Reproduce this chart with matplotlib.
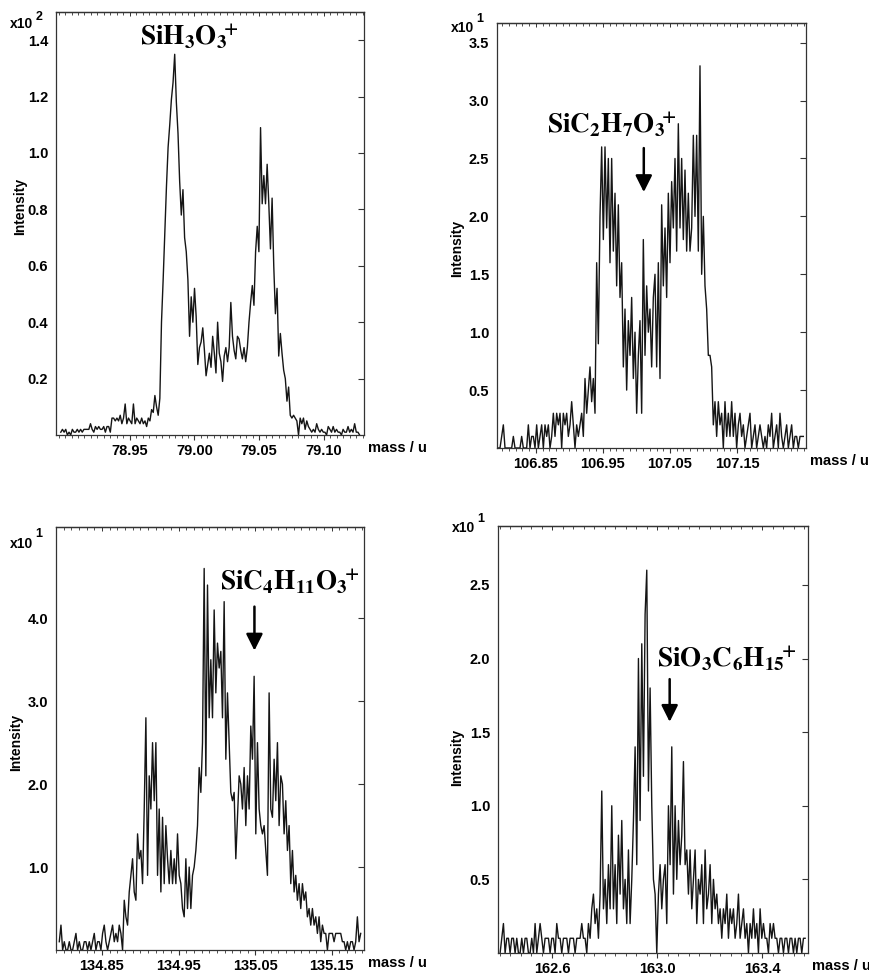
import numpy as np
import matplotlib.pyplot as plt
from matplotlib.ticker import MultipleLocator, FormatStrFormatter

plt.rcParams['font.family'] = ['Liberation Sans', 'DejaVu Sans']
plt.rcParams['font.weight'] = 'bold'
plt.rcParams['mathtext.fontset'] = 'stix'

# raw counts (uniform mass channels)
counts1 = [1, 2, 1, 2, 0, 1, 0, 2, 1, 1, 2, 1, 2, 1, 2, 2, 2, 2, 4, 2, 1, 3, 2, 3, 2, 2, 3, 1, 3, 3, 1,
           6, 6, 5, 6, 5, 7, 4, 6, 11, 4, 6, 5, 4, 11, 4, 6, 5, 4, 6, 4, 5, 3, 6, 5, 9, 8, 14, 10,
           7, 13, 40, 55, 72, 88, 102, 110, 119, 125, 135, 118, 107, 90, 78, 87, 70, 65,
           55, 35, 49, 40, 52, 42, 25, 31, 33, 38, 30, 21, 25, 29, 24, 35, 29, 22, 40, 29, 26, 19,
           28, 31, 26, 31, 47, 35, 30, 27, 35, 34, 30, 27, 31, 26, 31, 40, 47, 53,
           46, 65, 74, 65, 109, 82, 92, 82, 96, 82, 66, 84, 60, 43, 52, 28, 36, 29, 23, 20,
           12, 17, 7, 6, 7, 6, 5, 0,
           6, 4, 6, 2, 5, 3, 2, 1, 2, 1, 4, 2, 1, 2, 1, 1, 0, 3, 2, 1, 3, 1, 2, 1, 1, 0,
           2, 1, 1, 3, 1, 2, 1, 4, 1, 1, 0]

counts2 = [0, 0, 1, 2, 0, 0, 0, 0, 0, 1, 0, 0, 0, 0, 1, 0, 0, 0, 2, 0,
           1, 1, 0, 2, 0, 1, 2, 0, 2, 1, 2, 0, 1, 3, 1, 3, 2, 3, 0, 3,
           2, 3, 1, 2, 4, 2, 0, 2, 1, 2, 3, 1, 6, 3, 5, 7, 4, 6, 3, 16,
           9, 20, 26, 18, 26, 19, 25, 16, 25, 17, 22, 14, 21, 13, 16, 7, 12, 5, 11, 8,
           13, 6, 10, 3, 8, 11, 3, 18, 8, 14, 10, 12, 7, 13, 15, 7, 16, 6, 21, 14,
           19, 13, 22, 16, 23, 19, 25, 17, 28, 19, 25, 18, 24, 17, 22, 17, 19, 27, 20, 27,
           17, 33, 15, 20, 14, 12, 8, 8, 7, 2, 4, 1, 4, 2, 3, 0, 4, 1, 3, 1,
           4, 1, 3, 0, 2, 3, 1, 2, 0, 1, 2, 3, 0, 1, 2, 0, 1, 2, 1, 0,
           1, 0, 2, 1, 3, 0, 1, 2, 0, 3, 1, 0, 1, 2, 0, 1, 2, 0, 1, 1,
           0, 1, 1, 1]

counts3 = [1, 3, 0, 1, 0, 0, 1, 0, 0, 1, 2, 0, 1, 0, 0, 1, 1, 0, 1, 0,
           1, 2, 0, 1, 1, 0, 2, 3, 1, 0, 1, 2, 3, 1, 2, 1, 3, 2, 0,
           6, 4, 3, 7, 9, 11, 7, 6, 14, 11, 12, 8, 17, 28, 9, 21, 17, 25, 18, 25,
           9, 17, 7, 16, 8, 15, 11, 8, 12, 8, 11, 8, 14, 9, 8, 5, 4, 11, 5, 10,
           5, 9, 10, 12, 15, 22, 19, 25, 46, 21, 44, 28, 35, 28, 41, 31, 37, 34, 36, 28,
           42, 23, 31, 25, 19, 18, 19, 11, 16, 21, 20, 17, 22, 15, 21, 17, 27, 23, 33, 14,
           25, 17, 15, 14, 15, 12, 9, 31, 17, 16, 23, 18, 25, 15, 21, 20, 14, 18, 12, 15,
           8, 12, 7, 9, 6, 8, 5, 8, 6, 7, 4, 5, 3, 5, 3, 4, 2, 4, 1, 3,
           2, 2, 0, 2, 2, 2, 1, 2, 2, 2, 2, 1, 1, 0, 1, 0, 1, 1, 0, 1,
           4, 1, 2]

counts4 = [0, 1, 2, 0, 1, 1, 0, 1, 1, 0, 1, 0, 0, 1, 0, 1, 1, 0, 0, 1,
           0, 2, 0, 1, 2, 1, 0, 1, 1, 1, 0, 1, 1, 0, 2, 1, 1, 0, 1, 1,
           1, 0, 1, 1, 1, 0, 1, 1, 1, 2, 1, 1, 0, 2, 1,
           3, 4, 2, 3, 1, 4, 11, 3, 5, 2, 6, 3, 10, 3, 6, 2, 8, 4, 9, 3, 5, 2, 7, 2, 5,
           9, 14, 6, 20, 9, 21, 12, 23, 26, 11, 18, 10, 5, 4, 0,
           4, 6, 3, 5, 6, 2, 10, 6, 14, 4, 10, 5, 9, 6, 8, 13, 6, 7, 4, 7, 3, 5, 7, 2,
           5, 4, 6, 2, 7, 3, 4, 6, 2, 5, 3, 4, 2, 3, 1, 3, 2, 4, 1, 3,
           2, 3, 1, 2, 4, 1, 2, 3, 1, 2, 0, 2, 1, 3, 1, 2, 0, 3, 1, 2,
           1, 1, 0, 2, 1, 2, 1, 1, 0, 1, 1, 0, 1, 1, 0, 1, 1, 0, 1, 0,
           1, 1, 0, 1, 1]

# first / last channel mass of each spectrum
mass_range1 = (78.8967, 79.1276)
mass_range2 = (106.794, 107.249)
mass_range3 = (134.7943, 135.1877)
mass_range4 = (162.402, 163.564)

xticks1 = [78.95, 79.00, 79.05, 79.10]
xticks2 = [106.85, 106.95, 107.05, 107.15]
xticks3 = [134.85, 134.95, 135.05, 135.15]
xticks4 = [162.6, 163.0, 163.4]
yticks1 = [0.2, 0.4, 0.6, 0.8, 1.0, 1.2, 1.4]
yticks2 = [0.5, 1.0, 1.5, 2.0, 2.5, 3.0, 3.5]
yticks3 = [1.0, 2.0, 3.0, 4.0]
yticks4 = [0.5, 1.0, 1.5, 2.0, 2.5]

scales = [100, 10, 10, 10]
exponents = ['2', '1', '1', '1']
formulas = [r'$\mathbf{SiH_3O_3\!\!{}^+}$', r'$\mathbf{SiC_2H_7O_3\!\!{}^+}$',
            r'$\mathbf{SiC_4H_{11}O_3\!\!{}^+}$', r'$\mathbf{SiO_3C_6H_{15}\!\!{}^+}$']

fig = plt.figure(figsize=(8.7, 9.73), dpi=100)
W, H = 870, 973

def add_ax(l, t, r, b):
    return fig.add_axes([l / W, (H - b) / H, (r - l) / W, (b - t) / H])

axes = [add_ax(56, 12, 364, 435), add_ax(497, 23, 806, 448),
        add_ax(56, 527, 364, 950), add_ax(498, 526, 808, 953)]

panels = [
    dict(counts=counts1, mr=mass_range1, xlim=(78.893, 79.131), ylim=(0, 1.5),
         xt=xticks1, yt=yticks1, xmin=0.005, xfmt='%.2f',
         text=(78.958, 1.383), arrow=None, lab=(-0.094, 0.54), x10=(0.962, 0.981)),
    dict(counts=counts2, mr=mass_range2, xlim=(106.792, 107.253), ylim=(0, 3.67),
         xt=xticks2, yt=yticks2, xmin=0.01, xfmt='%.2f',
         text=(106.866, 2.72), arrow=(107.011, 2.59, 2.21), lab=(-0.107, 0.47), x10=(0.979, 1.002)),
    dict(counts=counts3, mr=mass_range3, xlim=(134.790, 135.192), ylim=(0, 5.1),
         xt=xticks3, yt=yticks3, xmin=0.01, xfmt='%.2f',
         text=(135.0035, 4.34), arrow=(135.049, 4.14, 3.61), lab=(-0.107, 0.49), x10=(0.950, 0.976)),
    dict(counts=counts4, mr=mass_range4, xlim=(162.394, 163.575), ylim=(0, 2.9),
         xt=xticks4, yt=yticks4, xmin=0.04, xfmt='%.1f',
         text=(163.0, 1.94), arrow=(163.048, 1.86, 1.57), lab=(-0.11, 0.457), x10=(0.986, 1.009)),
]

for ax, p, sc, ex, f in zip(axes, panels, scales, exponents, formulas):
    c = np.array(p['counts'], dtype=float)
    m = np.linspace(p['mr'][0], p['mr'][1], len(c))
    ax.plot(m, c / sc, color='#151515', lw=1.0)
    ax.set_xlim(p['xlim'])
    ax.set_ylim(p['ylim'])

    ax.set_xticks(p['xt'])
    ax.xaxis.set_major_formatter(FormatStrFormatter(p['xfmt']))
    ax.xaxis.set_minor_locator(MultipleLocator(p['xmin']))
    ax.set_yticks(p['yt'])
    ax.yaxis.set_major_formatter(FormatStrFormatter('%.1f'))

    ax.tick_params(axis='x', which='major', direction='out', length=3.5, width=0.8,
                   labelsize=10.5, pad=3, color='#333333')
    ax.tick_params(axis='x', which='minor', direction='out', length=2, width=0.6, color='#333333')
    ax.tick_params(axis='y', which='major', left=False, right=True, direction='in',
                   length=4, width=0.8, labelsize=10.5, pad=5.5, color='#333333')
    for lab in ax.get_xticklabels() + ax.get_yticklabels():
        lab.set_fontweight('bold')

    top = ax.secondary_xaxis('top')
    top.set_xticks(p['xt'])
    top.xaxis.set_minor_locator(MultipleLocator(p['xmin']))
    top.tick_params(which='major', direction='in', length=3, width=0.7, labeltop=False, color='#333333')
    top.tick_params(which='minor', direction='in', length=2, width=0.6, color='#333333')
    top.spines['top'].set_linewidth(0.9)
    top.spines['top'].set_color('#333333')

    for s in ax.spines.values():
        s.set_linewidth(0.9)
        s.set_color('#333333')

    ax.set_ylabel('Intensity', fontsize=10, fontweight='bold')
    ax.yaxis.set_label_coords(p['lab'][0], p['lab'][1])
    ax.text(1.012, -0.031, 'mass / u', transform=ax.transAxes, ha='left', va='center',
            fontsize=10.5, fontweight='bold', clip_on=False)
    ax.text(-0.149, p['x10'][0], 'x10', transform=ax.transAxes, ha='left', va='baseline',
            fontsize=10, fontweight='bold')
    ax.text(-0.066, p['x10'][1], ex, transform=ax.transAxes, ha='left', va='baseline',
            fontsize=9, fontweight='bold')

    ax.text(p['text'][0], p['text'][1], f, fontsize=19.5, ha='left', va='baseline')
    if p['arrow'] is not None:
        ax_x, y0, y1 = p['arrow']
        ax.annotate('', xy=(ax_x, y1), xytext=(ax_x, y0),
                    arrowprops=dict(arrowstyle='-|>,head_length=0.5,head_width=0.25',
                                    color='black', lw=1.8, mutation_scale=20,
                                    shrinkA=0, shrinkB=0))

fig.savefig('out.png', dpi=100, facecolor='white')
